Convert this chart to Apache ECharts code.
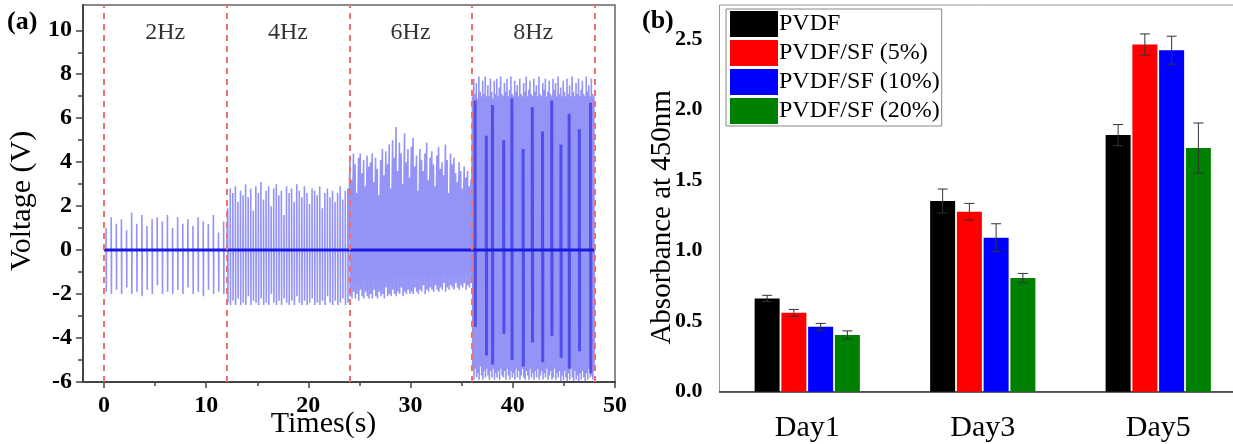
<!DOCTYPE html>
<html>
<head>
<meta charset="utf-8">
<script src="https://cdn.jsdelivr.net/npm/echarts@6/dist/echarts.min.js"></script>
<style>
html,body{margin:0;padding:0;background:#fff;}
#c{width:1233px;height:444px;}
</style>
</head>
<body>
<div id="c"></div>
<script>
// ---------- Panel (a) data ----------
const segBounds = [0, 12, 24, 36, 48];
const freqLabels = ['2Hz', '4Hz', '6Hz', '8Hz'];
const peaks2 = [1.0, 1.5, 1.2, 1.4, 0.9, 1.7, 1.2, 1.6, 1.1, 1.4, 1.5, 1.3, 1.6, 1.0, 1.5, 1.2, 1.4, 1.1, 1.5, 1.3, 1.2, 1.6, 0.8, 1.3];
const troughs2 = [-1.9, -2.0, -1.8, -2.0, -1.7, -2.0, -1.9, -2.1, -1.8, -2.0, -1.6, -2.0, -1.9, -2.0, -1.8, -2.0, -1.7, -2.0, -1.9, -2.1, -1.8, -2.0, -1.9, -2.0];
const peaks4 = [1.9, 2.8, 2.6, 2.9, 2.2, 2.7, 2.5, 3.0, 2.4, 2.8, 1.8, 2.9, 2.6, 3.1, 2.3, 2.7, 2.9, 2.0, 2.8, 3.0, 2.5, 2.7, 1.6, 2.9,
                2.6, 2.8, 2.2, 3.0, 2.7, 2.4, 2.9, 2.6, 2.1, 2.8, 2.7, 2.5, 2.9, 1.9, 2.6, 2.8, 2.4, 2.7, 2.2, 2.6, 2.9, 2.3, 2.7, 2.8];
const troughs4 = [-2.4, -2.5, -2.3, -2.5, -2.2, -2.5, -2.4, -2.5, -2.1, -2.5, -2.3, -2.4, -2.5, -2.2, -2.5, -2.4, -2.5, -2.0, -2.4, -2.5, -2.3, -2.5, -2.2, -2.4,
                  -2.5, -2.3, -2.5, -2.1, -2.4, -2.5, -2.3, -2.5, -2.4, -2.2, -2.5, -2.4, -2.5, -2.3, -2.5, -2.1, -2.4, -2.5, -2.3, -2.5, -2.4, -2.2, -2.5, -2.4];
const peaks6 = [4.3, 3.2, 4.4, 3.9, 2.6, 4.2, 4.4, 3.5, 4.1, 2.9, 4.3, 3.8,
                4.0, 4.4, 3.1, 4.2, 3.7, 2.5, 4.1, 4.6, 3.4, 4.5, 3.9, 4.8,
                2.8, 5.0, 4.2, 5.6, 3.6, 4.9, 4.4, 3.0, 5.3, 4.0, 4.6, 3.3,
                4.7, 5.1, 3.8, 4.3, 2.7, 4.6, 4.1, 3.6, 4.4, 4.9, 3.2, 4.2,
                4.5, 3.9, 2.9, 4.3, 4.7, 3.7, 4.0, 3.4, 4.8, 4.1, 2.6, 4.4,
                3.9, 4.2, 3.5, 3.1, 4.0, 3.6, 2.8, 3.8, 3.3, 3.6, 2.9, 3.2];
const troughs6 = [-2.1, -2.2, -1.9, -2.2, -2.0, -2.3, -1.8, -2.1, -2.2, -1.9, -2.1, -2.2,
                  -2.0, -2.2, -1.8, -2.1, -2.2, -1.9, -2.1, -2.0, -2.2, -1.7, -2.1, -2.0,
                  -2.1, -1.8, -2.0, -2.1, -1.9, -2.0, -1.7, -2.1, -1.9, -2.0, -1.8, -2.0,
                  -1.9, -2.0, -1.7, -1.9, -2.0, -1.8, -1.9, -1.6, -2.0, -1.8, -1.9, -1.7,
                  -1.8, -1.9, -1.6, -1.8, -1.9, -1.7, -1.8, -1.5, -1.9, -1.7, -1.8, -1.6,
                  -1.7, -1.8, -1.5, -1.7, -1.8, -1.6, -1.7, -1.5, -1.8, -1.6, -1.7, -1.5];
const peaks8 = [7.0, 7.8, 7.1, 7.6, 6.9, 7.9, 7.2, 7.0, 7.7, 7.1, 7.9, 7.0,
                7.5, 7.0, 7.8, 7.2, 6.9, 7.7, 7.1, 7.8, 7.0, 7.4, 7.9, 7.1,
                7.0, 7.6, 7.2, 7.8, 7.0, 7.3, 7.9, 7.1, 7.0, 7.7, 7.2, 7.5,
                7.0, 7.8, 7.1, 7.0, 7.6, 7.2, 7.9, 7.0, 7.3, 7.7, 7.1, 7.0,
                7.8, 7.2, 7.5, 7.0, 7.9, 7.1, 7.0, 7.6, 7.3, 7.8, 7.0, 7.2,
                7.7, 7.1, 7.0, 7.8, 7.3, 7.6, 7.0, 7.9, 7.1, 7.4, 7.0, 7.7,
                7.2, 7.0, 7.8, 7.1, 7.5, 7.0, 7.9, 7.2, 7.0, 7.6, 7.1, 7.8,
                7.0, 7.3, 7.7, 7.1, 7.0, 7.9, 7.2, 7.5, 7.0, 7.8, 7.1, 7.0];
const troughs8 = [-5.5, -5.9, -5.4, -5.8, -5.6, -5.9, -5.3, -5.7, -5.9, -5.5, -5.8, -5.4,
                  -5.7, -5.9, -5.5, -5.8, -5.4, -5.9, -5.6, -5.8, -5.5, -5.9, -5.4, -5.7,
                  -5.8, -5.5, -5.9, -5.4, -5.7, -5.9, -5.5, -5.8, -5.6, -5.9, -5.4, -5.8,
                  -5.5, -5.9, -5.7, -5.4, -5.8, -5.9, -5.5, -5.7, -5.9, -5.4, -5.8, -5.6,
                  -5.9, -5.5, -5.8, -5.4, -5.9, -5.7, -5.5, -5.9, -5.6, -5.8, -5.4, -5.9,
                  -5.7, -5.5, -5.9, -5.8, -5.4, -5.9, -5.6, -5.8, -5.5, -6.0, -5.7, -5.9,
                  -5.5, -5.8, -6.0, -5.6, -5.9, -5.4, -5.8, -6.0, -5.5, -5.9, -5.7, -6.0,
                  -5.6, -5.9, -5.5, -5.8, -6.0, -5.6, -5.9, -5.4, -5.8, -5.7, -5.9, -5.5];
// darker, deeper strokes visible inside the 8Hz block (time, top, bottom)
const darkT8 = [36.3, 37.4, 38.0, 39.1, 39.9, 41.0, 41.9, 42.9, 43.8, 44.7, 45.5, 46.5, 47.6];
const darkTop8 = [6.8, 5.2, 6.6, 5.0, 6.9, 4.6, 6.5, 5.4, 6.8, 4.8, 6.2, 5.5, 6.7];
const darkBot8 = [-3.5, -4.8, -5.2, -3.8, -5.0, -5.3, -4.2, -5.1, -3.9, -4.9, -5.4, -4.6, -5.6];
const xLabelsA = [0, 10, 20, 30, 40, 50];
const xMinorA = [5, 15, 25, 35, 45];
const yLabelsA = [-6, -4, -2, 0, 2, 4, 6, 8, 10];
const yMinorA = [-5, -3, -1, 1, 3, 5, 7, 9];

// ---------- Panel (b) data ----------
const days = ['Day1', 'Day3', 'Day5'];
const seriesNames = ['PVDF', 'PVDF/SF (5%)', 'PVDF/SF (10%)', 'PVDF/SF (20%)'];
const pvdf  = [0.661, 1.351, 1.818];
const sf5   = [0.559, 1.275, 2.460];
const sf10  = [0.460, 1.091, 2.420];
const sf20  = [0.402, 0.805, 1.726];
const errPvdf = [0.022, 0.085, 0.075];
const errSf5  = [0.024, 0.059, 0.075];
const errSf10 = [0.024, 0.099, 0.099];
const errSf20 = [0.029, 0.033, 0.178];
const yLabelsB = [0, 0.5, 1.0, 1.5, 2.0, 2.5];
const yMinorB = [0.25, 0.75, 1.25, 1.75, 2.25];

// ---------- build ----------
const FONT = '"Liberation Serif","Times New Roman",serif';
const colors = ['#000000', '#ff0000', '#0000ff', '#008000'];
const means = [pvdf, sf5, sf10, sf20];
const errs = [errPvdf, errSf5, errSf10, errSf20];
const BAR_W = 25, BAR_GAP = '7%';
const BAR_PITCH = BAR_W * 1.07;

const segPeaks = [peaks2, peaks4, peaks6, peaks8];
const segTroughs = [troughs2, troughs4, troughs6, troughs8];
const signal = [];
for (let s = 0; s < 4; s++) {
  const t0 = segBounds[s], t1 = segBounds[s + 1];
  const n = segPeaks[s].length;
  const step = (t1 - t0) / n;
  signal.push([t0, 0]);
  for (let k = 0; k < n; k++) {
    const t = t0 + (k + 0.4) * step;
    signal.push([t, 0]);
    signal.push([t + 0.01, segPeaks[s][k]]);
    signal.push([t + 0.03, segTroughs[s][k]]);
    signal.push([t + 0.045, 0]);
  }
}
signal.push([segBounds[4], 0]);

const dark = [];
for (let k = 0; k < darkT8.length; k++) {
  dark.push([darkT8[k], 0], [darkT8[k] + 0.01, darkTop8[k]], [darkT8[k] + 0.03, darkBot8[k]], [darkT8[k] + 0.04, 0], [darkT8[k] + 0.05, null]);
}

const LABEL_Y = 9.88;
const freqData = freqLabels.map((l, i) => [(segBounds[i] + segBounds[i + 1]) / 2, LABEL_Y, l]);

const errData = [];
for (let s = 0; s < 4; s++) for (let c = 0; c < days.length; c++) errData.push([c, means[s][c], errs[s][c], s]);

const chart = echarts.init(document.getElementById('c'), null, {renderer: 'canvas'});
const axisLabelA = {fontFamily: FONT, fontWeight: 'bold', fontSize: 24, color: '#000'};

chart.setOption({
  animation: false,
  backgroundColor: '#fff',
  textStyle: {fontFamily: FONT},
  title: [
    {text: '(a)', left: 7, top: 9, padding: 0, textStyle: {fontFamily: FONT, fontWeight: 'bold', fontSize: 26, color: '#000'}},
    {text: '(b)', left: 642, top: 8, padding: 0, textStyle: {fontFamily: FONT, fontWeight: 'bold', fontSize: 26, color: '#000'}}
  ],
  legend: {
    data: seriesNames, orient: 'vertical', left: 726, top: 9,
    itemWidth: 48, itemHeight: 26, itemGap: 3, icon: 'rect',
    padding: [2, 2, 2, 4], borderColor: '#888', borderWidth: 1,
    textStyle: {fontFamily: FONT, fontSize: 24, color: '#000', padding: [0, 0, 0, -4]},
    selectedMode: false
  },
  grid: [
    {left: 83, top: 5, right: 618, bottom: 62, show: true, borderColor: '#666', borderWidth: 1.5, outerBoundsMode: 'none', containLabel: false},
    {left: 719.5, top: 5, right: -13, bottom: 52.3, show: true, borderColor: '#999', borderWidth: 1, outerBoundsMode: 'none', containLabel: false}
  ],
  xAxis: [
    {gridIndex: 0, type: 'value', position: 'bottom', min: -2.05, max: 50,
      axisLine: {onZero: false, lineStyle: {color: '#444', width: 2}},
      axisTick: {customValues: xLabelsA, length: 6, lineStyle: {color: '#444', width: 1.5}},
      axisLabel: Object.assign({customValues: xLabelsA, margin: 12}, axisLabelA),
      splitLine: {show: false},
      name: 'Times(s)', nameLocation: 'middle', nameGap: 27, nameMoveOverlap: false,
      nameTextStyle: {fontFamily: FONT, fontSize: 30, color: '#000', padding: [0, 51, 0, 0]}},
    {gridIndex: 0, type: 'value', position: 'bottom', min: -2.05, max: 50,
      axisLine: {show: false, onZero: false},
      axisTick: {customValues: xMinorA, length: 4, lineStyle: {color: '#444', width: 1.5}},
      axisLabel: {show: false}, splitLine: {show: false}},
    {gridIndex: 1, type: 'category', position: 'bottom', data: days,
      axisLine: {onZero: false, lineStyle: {color: '#333', width: 1.5}},
      axisTick: {alignWithLabel: true, length: 7, lineStyle: {color: '#333', width: 1.5}},
      axisLabel: {fontFamily: FONT, fontSize: 30, color: '#000', margin: 21}}
  ],
  yAxis: [
    {gridIndex: 0, type: 'value', position: 'left', min: -6, max: 11.15,
      axisLine: {onZero: false, lineStyle: {color: '#444', width: 2}},
      axisTick: {customValues: yLabelsA, length: 7, lineStyle: {color: '#444', width: 1.5}},
      axisLabel: Object.assign({customValues: yLabelsA, margin: 11}, axisLabelA),
      splitLine: {show: false},
      name: 'Voltage (V)', nameLocation: 'middle', nameGap: 46, nameMoveOverlap: false,
      nameTextStyle: {fontFamily: FONT, fontSize: 30, color: '#000', padding: [0, 15, 0, 0]}},
    {gridIndex: 0, type: 'value', position: 'left', min: -6, max: 11.15,
      axisLine: {show: false, onZero: false},
      axisTick: {customValues: yMinorA, length: 5, lineStyle: {color: '#444', width: 1.5}},
      axisLabel: {show: false}, splitLine: {show: false}},
    {gridIndex: 1, type: 'value', position: 'left', min: 0, max: 2.74,
      axisLine: {onZero: false, lineStyle: {color: '#333', width: 1.5}},
      axisTick: {customValues: yLabelsB, length: 10, lineStyle: {color: '#333', width: 1.5}},
      axisLabel: {customValues: yLabelsB, margin: 17, fontFamily: FONT, fontWeight: 'bold', fontSize: 22, color: '#000',
        formatter: v => Number(v).toFixed(1)},
      splitLine: {show: false},
      name: 'Absorbance at 450nm', nameLocation: 'middle', nameGap: 43, nameMoveOverlap: false,
      nameTextStyle: {fontFamily: FONT, fontSize: 29, color: '#000', padding: [0, 38, 0, 0]}},
    {gridIndex: 1, type: 'value', position: 'left', min: 0, max: 2.74,
      axisLine: {show: false, onZero: false},
      axisTick: {customValues: yMinorB, length: 5, lineStyle: {color: '#333', width: 1.5}},
      axisLabel: {show: false}, splitLine: {show: false}}
  ],
  series: [
    {type: 'line', name: 'signal', xAxisIndex: 0, yAxisIndex: 0, data: signal,
      showSymbol: false, symbol: 'none', silent: true, z: 2,
      lineStyle: {color: 'rgba(60,60,240,0.55)', width: 1.6},
      markLine: {silent: true, symbol: 'none', label: {show: false},
        lineStyle: {color: '#f07070', width: 2, type: [6, 5]},
        data: segBounds.map(b => ({xAxis: b}))}},
    {type: 'line', name: 'dark', xAxisIndex: 0, yAxisIndex: 0, data: dark, connectNulls: false,
      showSymbol: false, symbol: 'none', silent: true, z: 3,
      lineStyle: {color: 'rgba(20,20,225,0.55)', width: 3}},
    {type: 'line', name: 'baseline', xAxisIndex: 0, yAxisIndex: 0,
      data: [[segBounds[0], 0], [segBounds[4], 0]], symbol: 'none', silent: true, z: 3,
      lineStyle: {color: '#1a1ae0', width: 3}},
    {type: 'scatter', name: 'freq', xAxisIndex: 0, yAxisIndex: 0, data: freqData,
      symbolSize: 0, silent: true, z: 4,
      label: {show: true, position: 'inside', formatter: p => p.data[2],
        fontFamily: FONT, fontSize: 24, color: '#000'}},
    ...seriesNames.map((nm, i) => ({
      type: 'bar', name: nm, xAxisIndex: 2, yAxisIndex: 2, data: means[i],
      barWidth: BAR_W, barGap: BAR_GAP, itemStyle: {color: colors[i]}, z: 2
    })),
    {type: 'custom', name: 'err', xAxisIndex: 2, yAxisIndex: 2, data: errData, z: 5, silent: true,
      encode: {x: 0, y: 1},
      renderItem: function (params, api) {
        const c = api.value(0), m = api.value(1), e = api.value(2), s = api.value(3);
        const base = api.coord([c, m]);
        const x = base[0] + (s - 1.5) * BAR_PITCH;
        const yt = api.coord([c, m + e])[1];
        const yb = api.coord([c, m - e])[1];
        const st = {stroke: '#333', lineWidth: 1};
        return {type: 'group', children: [
          {type: 'line', shape: {x1: x, y1: yt, x2: x, y2: yb}, style: st},
          {type: 'line', shape: {x1: x - 5, y1: yt, x2: x + 5, y2: yt}, style: st},
          {type: 'line', shape: {x1: x - 5, y1: yb, x2: x + 5, y2: yb}, style: st}
        ]};
      }}
  ]
});
</script>
</body>
</html>
